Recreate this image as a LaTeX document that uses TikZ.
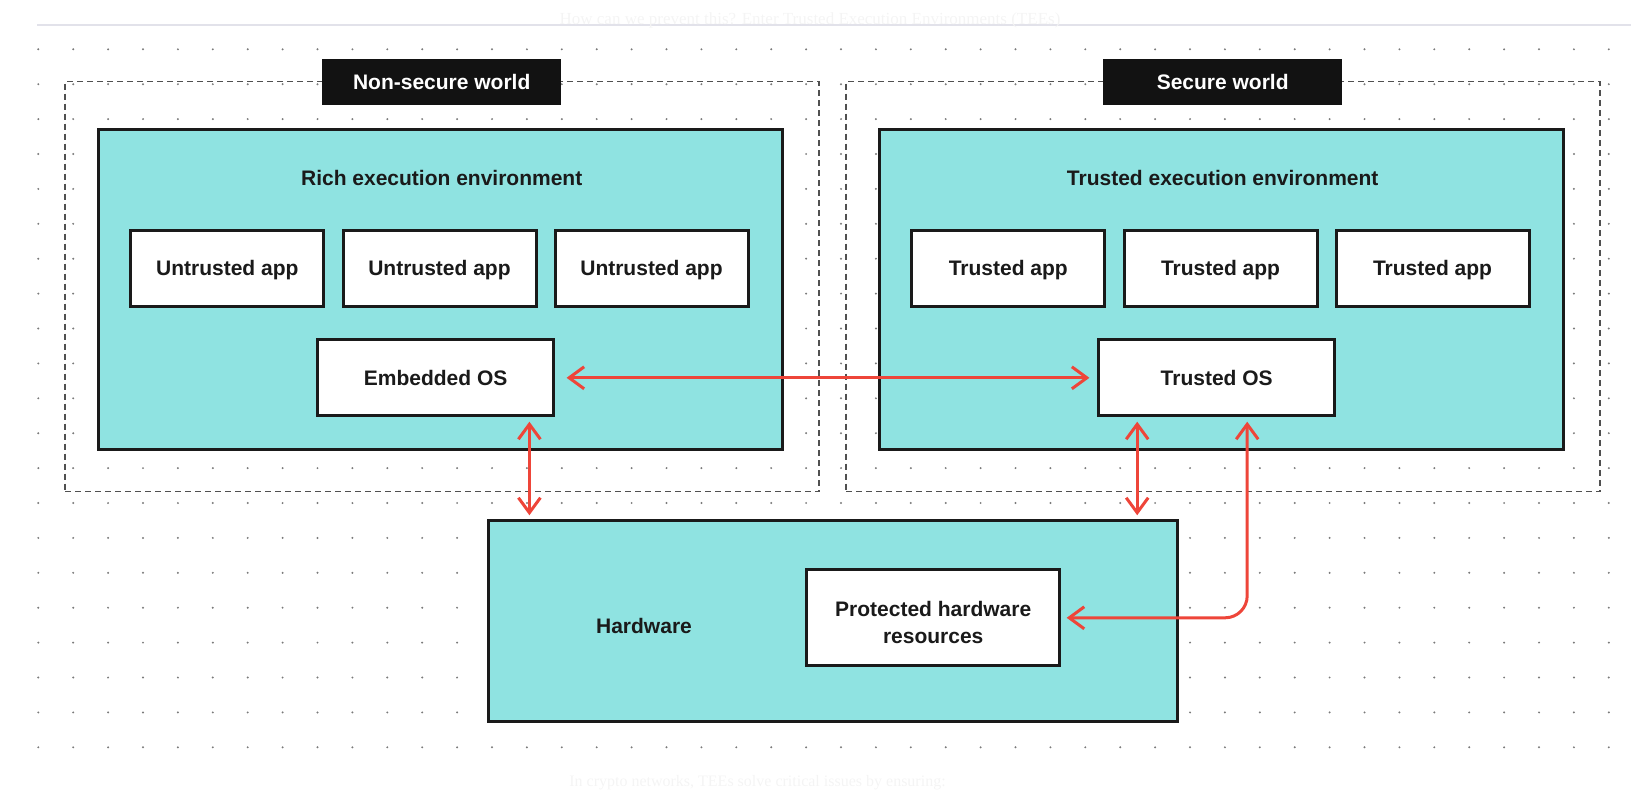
\documentclass[tikz,border=0pt]{standalone}
\usepackage{fontspec}
\setmainfont{Liberation Sans}
\newfontfamily\serifface{Liberation Serif}
\usetikzlibrary{arrows.meta}
\definecolor{tealfill}{HTML}{8FE3E1}
\definecolor{ink}{HTML}{1A1A1A}
\definecolor{redarr}{HTML}{EE4539}
\definecolor{dotc}{HTML}{7A7A7A}
\definecolor{dashc}{HTML}{505050}
\definecolor{lineg}{HTML}{E2E2EA}
\definecolor{faint}{HTML}{F4F4F4}
\begin{document}
\begin{tikzpicture}[x=1pt,y=-1pt,
  lbl/.style={font=\bfseries\fontsize{21}{27}\selectfont, text=ink, align=center, inner sep=0pt},
  whitebox/.style={lbl, draw=ink, line width=3pt, fill=white, text depth=0pt},
  envbox/.style={draw=ink, line width=3pt, fill=tealfill, inner sep=0pt},
  worldbox/.style={draw=dashc, dash pattern=on 6pt off 4pt, line width=1.3pt, inner sep=0pt},
  tagbox/.style={fill=black!93, text=white, font=\bfseries\fontsize{21}{25}\selectfont, minimum width=239pt, minimum height=46pt, inner sep=0pt},
  arr/.style={draw=redarr, line width=3pt, {Straight Barb[length=15pt,width=22pt]}-{Straight Barb[length=15pt,width=22pt]}},
  fainttext/.style={font=\serifface\fontsize{17}{20}\selectfont, text=faint, inner sep=0pt}
]
\useasboundingbox (0,0) rectangle (1650,800);
% faint page texts
\draw[lineg, line width=2pt] (36.8,25) -- (1631,25);
\node[fainttext] (toptext) at (810,20) {How can we prevent this? Enter Trusted Execution Environments (TEEs)};
\node[fainttext, font=\serifface\fontsize{16}{19}\selectfont] (bottext) at (757.5,783) {In crypto networks, TEEs solve critical issues by ensuring:};
% dot grid
\foreach \i in {0,...,45} {
  \foreach \j in {0,...,20} {
    \fill[dotc] (38.3+34.9*\i, 49.3+34.9*\j) circle (1.1);
  }
}
% worlds
\node[worldbox, minimum width=754pt, minimum height=410pt] (nsw) at (442,286.7) {};
\node[worldbox, minimum width=754pt, minimum height=410pt] (sw) at (1223,286.7) {};
\node[tagbox] (nswt) at (441.7,82) {Non-secure world};
\node[tagbox] (swt) at (1222.7,82) {Secure world};
% environments
\node[envbox, minimum width=684pt, minimum height=320pt] (ree) at (440.5,289) {};
\node[envbox, minimum width=684pt, minimum height=320pt] (tee) at (1221.5,289) {};
\node[lbl] (reet) at (441.7,178.3) {Rich execution environment};
\node[lbl] (teet) at (1222.7,178.3) {Trusted execution environment};
% apps
\foreach \x/\n in {227.3/ua1, 439.5/ua2, 651.5/ua3}
  \node[whitebox, minimum width=193pt, minimum height=76pt] (\n) at (\x,268.3) {Untrusted app};
\foreach \x/\n in {1008.3/ta1, 1220.5/ta2, 1432.5/ta3}
  \node[whitebox, minimum width=193pt, minimum height=76pt] (\n) at (\x,268.3) {Trusted app};
% OS
\node[whitebox, minimum width=236pt, minimum height=76pt] (eos) at (435.6,377.8) {Embedded OS};
\node[whitebox, minimum width=236pt, minimum height=76pt] (tos) at (1216.7,377.8) {Trusted OS};
% hardware
\node[envbox, minimum width=689pt, minimum height=201pt] (hw) at (833,620.75) {};
\node[lbl] (hwt) at (644,626) {Hardware};
\node[whitebox, minimum width=253pt, minimum height=96pt] (phr) at (933.2,617.8) {};
\node[lbl] (phrt) at ([yshift=-4.5pt]phr.center) {Protected hardware\\resources};
% connectors
\draw[arr, shorten <=11.5pt, shorten >=7.8pt] (eos.east) -- (tos.west);
\coordinate (a1) at ([xshift=213.3pt]eos.south west);
\draw[arr, shorten <=4.4pt, shorten >=3.5pt] (a1) -- (a1 |- hw.north);
\coordinate (a2) at ([xshift=40pt]tos.south west);
\draw[arr, shorten <=4.4pt, shorten >=3.5pt] (a2) -- (a2 |- hw.north);
\coordinate (a3) at ([xshift=150pt]tos.south west);
\draw[arr, rounded corners=22pt, shorten <=4.4pt, shorten >=5.5pt] (a3) |- (phr.east);
\end{tikzpicture}
\end{document}
